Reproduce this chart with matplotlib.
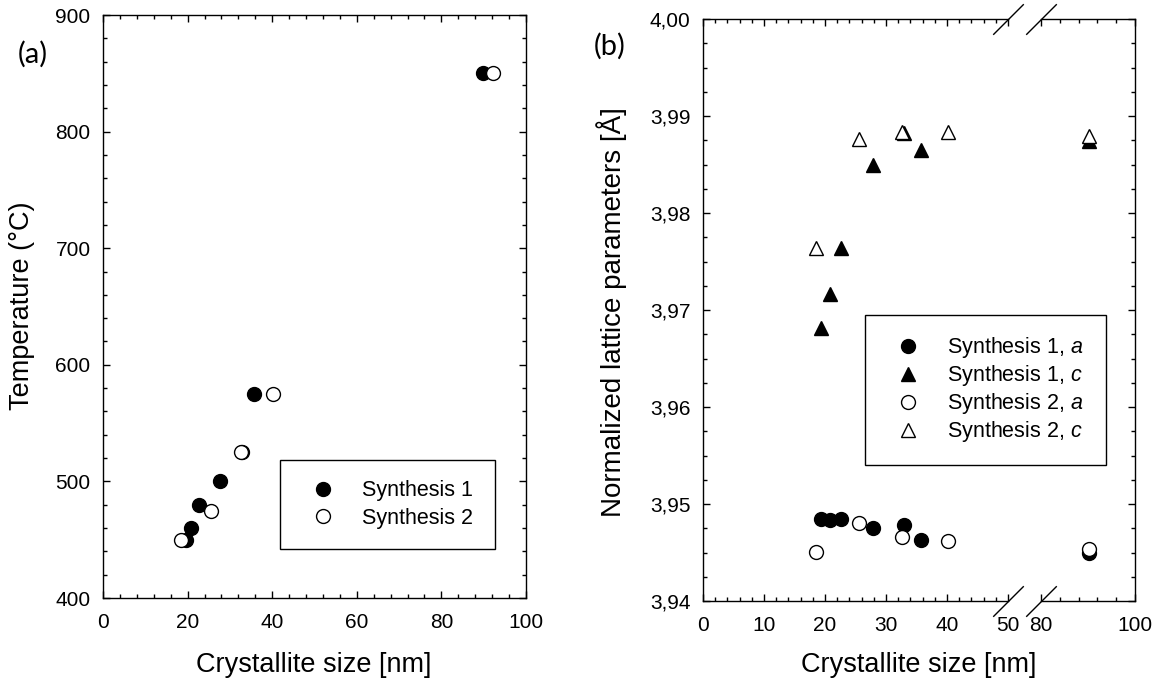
import matplotlib
matplotlib.use("Agg")
import matplotlib.pyplot as plt
from matplotlib.ticker import FixedLocator, FixedFormatter, MultipleLocator

plt.rcParams.update({
    "font.family": ["Liberation Sans", "DejaVu Sans"],
    "mathtext.fontset": "custom",
    "mathtext.rm": "Liberation Sans",
    "mathtext.it": "Liberation Sans:italic",
    "axes.linewidth": 1.0,
})

# ---- (a) synthesis temperature vs crystallite size ----
size_s1_temp = [19.6, 20.9, 22.6, 27.7, 32.9, 35.8, 89.8]
temp_s1 = [450, 460, 480, 500, 525, 575, 850]
size_s2_temp = [18.4, 25.6, 32.7, 40.3, 92.2]
temp_s2 = [450, 475, 525, 575, 850]

temp_ticks = [400, 500, 600, 700, 800, 900]
size_ticks_a = [0, 20, 40, 60, 80, 100]

# ---- (b) normalized lattice parameters vs crystallite size ----
size_s1 = [19.4, 20.9, 22.7, 27.9, 32.9, 35.8, 90.2]
a_s1 = [3.9485, 3.9484, 3.9485, 3.9475, 3.9478, 3.9463, 3.9450]
c_s1 = [3.9681, 3.9716, 3.9764, 3.9849, 3.9882, 3.9865, 3.9874]
size_s2 = [18.6, 25.6, 32.6, 40.2, 90.3]
a_s2 = [3.9451, 3.9480, 3.9466, 3.9462, 3.9454]
c_s2 = [3.9764, 3.9876, 3.9883, 3.9884, 3.9879]

lat_ticks = [3.94, 3.95, 3.96, 3.97, 3.98, 3.99, 4.00]
lat_tick_labels = ["3,94", "3,95", "3,96", "3,97", "3,98", "3,99", "4,00"]
size_ticks_left = [0, 10, 20, 30, 40, 50]
size_ticks_right = [80, 100]

W, H = 1163, 686
fig = plt.figure(figsize=(W / 100, H / 100), dpi=100)


def frac(x0, y0, x1, y1):
    return [x0 / W, 1 - y1 / H, (x1 - x0) / W, (y1 - y0) / H]


TICK_FS = 15
LABEL_FS = 19.5
LEG_FS = 15.5
MS = 10

filled = dict(linestyle="none", marker="o", ms=MS, mfc="black", mec="black", mew=1)
hollow = dict(linestyle="none", marker="o", ms=MS, mfc="white", mec="black", mew=1)

legend_style = dict(loc="upper left", bbox_transform=fig.transFigure, mode="expand",
                    fontsize=LEG_FS, frameon=True, fancybox=False, framealpha=1,
                    edgecolor="black", borderpad=0.95, handlelength=2.05,
                    handletextpad=0.8, borderaxespad=0)


def style_ticks(ax, **kw):
    ax.tick_params(which="both", direction="in", width=1, **kw)
    ax.tick_params(which="major", length=5)
    ax.tick_params(which="minor", length=3)
    ax.tick_params(axis="x", which="major", labelsize=TICK_FS, pad=11)
    ax.tick_params(axis="y", which="major", labelsize=TICK_FS, pad=9)


# ---------------- panel (a) ----------------
ax_a = fig.add_axes(frac(103, 15, 526, 598))
h1, = ax_a.plot(size_s1_temp, temp_s1, label="Synthesis 1", **filled)
h2, = ax_a.plot(size_s2_temp, temp_s2, label="Synthesis 2", **hollow)
ax_a.set_xlim(0, 100)
ax_a.set_ylim(400, 900)
ax_a.xaxis.set_major_locator(FixedLocator(size_ticks_a))
ax_a.xaxis.set_minor_locator(MultipleLocator(4))
ax_a.yaxis.set_major_locator(FixedLocator(temp_ticks))
ax_a.yaxis.set_minor_locator(MultipleLocator(20))
style_ticks(ax_a, top=True, right=True)
leg_a = ax_a.legend(handles=[h1, h2],
                    bbox_to_anchor=(280 / W, 1 - 460 / H, 215 / W, 0.0001),
                    labelspacing=0.3, **legend_style)
leg_a.get_frame().set_linewidth(1.0)

fig.text(22 / W, 1 - 306 / H, "Temperature (°C)", rotation=90,
         ha="center", va="center", fontsize=LABEL_FS)
fig.text(314 / W, 1 - 665 / H, "Crystallite size [nm]",
         ha="center", va="center", fontsize=LABEL_FS)
fig.text(33 / W, 1 - 54 / H, "(a)", ha="center", va="center",
         fontsize=21, family=["Lato", "DejaVu Sans"])

# ---------------- panel (b), broken x axis ----------------
ax_l = fig.add_axes(frac(703, 19, 1008, 601))
ax_r = fig.add_axes(frac(1041, 19, 1135, 601), sharey=ax_l)

handles_b = []
for ax in (ax_l, ax_r):
    ha, = ax.plot(size_s1, a_s1, label="Synthesis 1, $\\mathit{a}$", **filled)
    hc, = ax.plot(size_s1, c_s1, label="Synthesis 1, $\\mathit{c}$",
                  **{**filled, "marker": "^"})
    ha2, = ax.plot(size_s2, a_s2, label="Synthesis 2, $\\mathit{a}$", **hollow)
    hc2, = ax.plot(size_s2, c_s2, label="Synthesis 2, $\\mathit{c}$",
                   **{**hollow, "marker": "^"})
    if not handles_b:
        handles_b = [ha, hc, ha2, hc2]

ax_l.set_xlim(0, 50)
ax_r.set_xlim(80, 100)
ax_l.set_ylim(3.94, 4.00)

ax_l.xaxis.set_major_locator(FixedLocator(size_ticks_left))
ax_l.xaxis.set_minor_locator(MultipleLocator(2))
ax_r.xaxis.set_major_locator(FixedLocator(size_ticks_right))
ax_r.xaxis.set_minor_locator(MultipleLocator(4))
ax_l.yaxis.set_major_locator(FixedLocator(lat_ticks))
ax_l.yaxis.set_major_formatter(FixedFormatter(lat_tick_labels))
ax_l.yaxis.set_minor_locator(MultipleLocator(0.0025))

ax_l.spines["right"].set_visible(False)
ax_r.spines["left"].set_visible(False)
style_ticks(ax_l, top=True, right=False)
style_ticks(ax_r, top=True, right=True, left=False, labelleft=False)

# diagonal break marks
brk = dict(marker=[(-1, -1), (1, 1)], markersize=22, linestyle="none",
           color="black", mec="black", mew=1, clip_on=False)
ax_l.plot([1, 1], [0, 1], transform=ax_l.transAxes, **brk)
ax_r.plot([0, 0], [0, 1], transform=ax_r.transAxes, **brk)

leg_b = fig.legend(handles=handles_b,
                   bbox_to_anchor=(865 / W, 1 - 315 / H, 241 / W, 0.0001),
                   labelspacing=0.14, **legend_style)
leg_b.get_frame().set_linewidth(1.0)

fig.text(612 / W, 1 - 312 / H, "Normalized lattice parameters [Å]", rotation=90,
         ha="center", va="center", fontsize=20)
fig.text(919 / W, 1 - 665 / H, "Crystallite size [nm]",
         ha="center", va="center", fontsize=LABEL_FS)
fig.text(610 / W, 1 - 46 / H, "(b)", ha="center", va="center",
         fontsize=21, family=["Lato", "DejaVu Sans"])

fig.savefig("out.png", dpi=100)
